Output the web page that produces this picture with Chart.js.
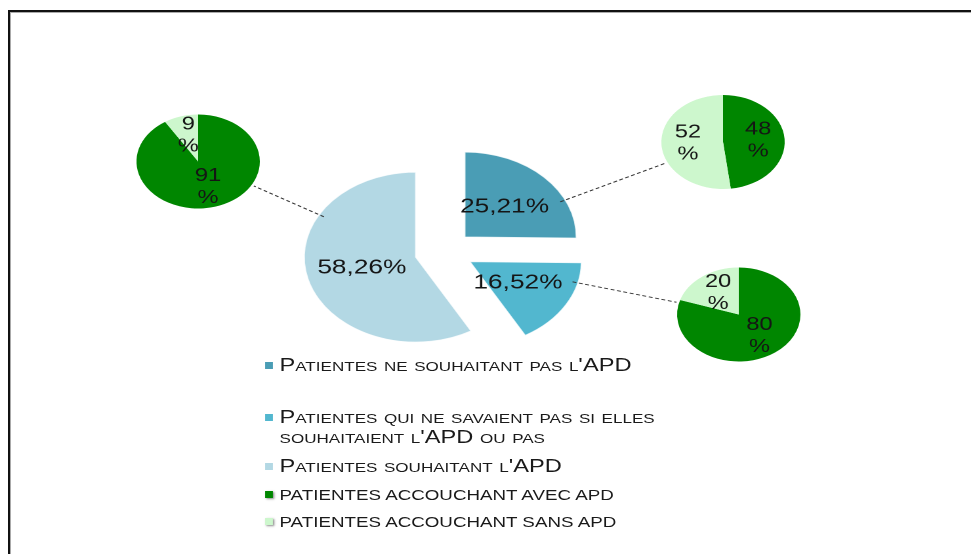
<!DOCTYPE html>
<html>
<head>
<meta charset="utf-8">
<script src="https://cdn.jsdelivr.net/npm/chart.js@4.4.1/dist/chart.umd.min.js"></script>
<style>
  html, body { margin: 0; padding: 0; background: #fff; overflow: hidden; }
  body { width: 971px; height: 554px; position: relative; font-family: 'Liberation Sans', Arial, sans-serif; }
  #frame { position: absolute; left: 8px; top: 10px; width: 1000px; height: 600px;
           border-top: 2px solid #111; border-left: 2px solid #111; box-shadow: inset 1px 1px 0 #aaa; }
  /* the original picture is stretched horizontally, so draw narrow and stretch */
  #stage { position: absolute; left: 0; top: 0; width: 740px; height: 554px;
           transform-origin: 0 0; transform: scaleX(1.3122); }
  #stage canvas { position: absolute; left: 0; top: 0; }
  .row { position: absolute; left: 202px; display: flex; align-items: flex-start; color: #1a1a1a; line-height: 20px; }
  .box { width: 6px; height: 7px; margin: 7px 5px 0 0; flex: none; }
  .sc { font-size: 18px; font-variant: small-caps; white-space: pre-line; }
  .caps { font-size: 14.3px; }
  .caps .box { box-shadow: 1px 1px 2px rgba(0,0,0,0.45); margin-top: 6px; }
</style>
</head>
<body>
<div id="frame"></div>
<div id="stage">
  <canvas id="main" width="740" height="554" style="width:740px;height:554px"></canvas>
  <canvas id="pieWish" width="740" height="554" style="width:740px;height:554px"></canvas>
  <canvas id="pieNoWish" width="740" height="554" style="width:740px;height:554px"></canvas>
  <canvas id="pieUnsure" width="740" height="554" style="width:740px;height:554px"></canvas>
  <div id="legend"></div>
</div>
<script>
// big pie
const bigLabels = [
  "Patientes ne souhaitant pas l'APD",
  "Patientes qui ne savaient pas si elles\nsouhaitaient l'APD ou pas",
  "Patientes souhaitant l'APD"
];
const bigValues = [25.21, 16.52, 58.26];

// small pies (avec / sans APD)
const smallLabels = ['PATIENTES ACCOUCHANT AVEC APD', 'PATIENTES ACCOUCHANT SANS APD'];
const noWishValues = [48, 52];
const unsureValues = [80, 20];
const wishValues = [91, 9];

const bigColors = ['#4a9db5', '#52b7cf', '#b3d8e4'];
const smallColors = ['#008600', '#cdf7cd'];

const W = 740, H = 554;
const FONT = "'Liberation Sans', Arial, sans-serif";

function padAround(cx, cy, r) {
  const half = r + 10;
  return { left: cx - half, right: W - cx - half, top: cy - half, bottom: H - cy - half };
}

// pulls each slice out from the centre without growing its radius
function explodePlugin(dist) {
  return {
    id: 'explode',
    afterDatasetsUpdate(chart) {
      chart.getDatasetMeta(0).data.forEach((arc, i) => {
        const mid = (arc.startAngle + arc.endAngle) / 2;
        arc.x += Math.cos(mid) * dist[i];
        arc.y += Math.sin(mid) * dist[i];
      });
    }
  };
}

// text inside each slice, at a fraction of the radius along the mid angle
function labelsPlugin(size, lineHeight, at, fmt) {
  return {
    id: 'sliceLabels',
    afterDatasetsDraw(chart) {
      const ctx = chart.ctx;
      const values = chart.data.datasets[0].data;
      ctx.save();
      ctx.font = size + 'px ' + FONT;
      ctx.fillStyle = '#151515';
      ctx.textAlign = 'center';
      ctx.textBaseline = 'middle';
      chart.getDatasetMeta(0).data.forEach((arc, i) => {
        const mid = (arc.startAngle + arc.endAngle) / 2;
        const px = arc.x + Math.cos(mid) * arc.outerRadius * at;
        const py = arc.y + Math.sin(mid) * arc.outerRadius * at;
        const lines = fmt(values[i]).split('\n');
        lines.forEach((t, k) => {
          ctx.fillText(t, px, py + (k - (lines.length - 1) / 2) * lineHeight);
        });
      });
      ctx.restore();
    }
  };
}

// dashed line from a slice of the big pie to this small pie
function connectorPlugin(sliceIndex) {
  return {
    id: 'connector',
    afterDatasetsDraw(chart) {
      const from = mainChart.getDatasetMeta(0).data[sliceIndex];
      const own = chart.getDatasetMeta(0).data[0];
      const dx = own.x - from.x, dy = own.y - from.y;
      const len = Math.hypot(dx, dy);
      const ux = dx / len, uy = dy / len;
      const ctx = chart.ctx;
      ctx.save();
      ctx.strokeStyle = '#333';
      ctx.lineWidth = 1;
      ctx.setLineDash([3, 2]);
      ctx.beginPath();
      ctx.moveTo(from.x + ux * from.outerRadius * 0.95, from.y + uy * from.outerRadius * 0.95);
      ctx.lineTo(own.x - ux * (own.outerRadius + 2), own.y - uy * (own.outerRadius + 2));
      ctx.stroke();
      ctx.restore();
    }
  };
}

const mainChart = new Chart(document.getElementById('main'), {
  type: 'pie',
  data: {
    labels: bigLabels,
    datasets: [{ data: bigValues, backgroundColor: bigColors, borderColor: 'rgba(255,255,255,0.8)', borderWidth: 1 }]
  },
  options: {
    responsive: false,
    animation: false,
    devicePixelRatio: 2,
    events: [],
    radius: 85,
    layout: { padding: padAround(340, 251, 85) },
    plugins: { legend: { display: false }, tooltip: { enabled: false } }
  },
  plugins: [
    explodePlugin([20, 21, 24]),
    labelsPlugin(20, 24, 0.5, v => v.toFixed(2).replace('.', ',') + '%')
  ]
});

function smallPie(id, values, cx, cy, sliceIndex) {
  return new Chart(document.getElementById(id), {
    type: 'pie',
    data: {
      labels: smallLabels,
      datasets: [{ data: values, backgroundColor: smallColors, borderWidth: 0 }]
    },
    options: {
      responsive: false,
      animation: false,
      devicePixelRatio: 2,
      events: [],
      radius: 47,
      layout: { padding: padAround(cx, cy, 47) },
      plugins: { legend: { display: false }, tooltip: { enabled: false } }
    },
    plugins: [
      connectorPlugin(sliceIndex),
      labelsPlugin(18, 22, 0.57, v => v + '\n%')
    ]
  });
}

smallPie('pieWish', wishValues, 151, 161.5, 2);
smallPie('pieNoWish', noWishValues, 551, 142, 0);
smallPie('pieUnsure', unsureValues, 563, 314.5, 1);

// legend
const legendRows = [
  { text: bigLabels[0], color: bigColors[0], cls: 'sc', y: 355 },
  { text: bigLabels[1], color: bigColors[1], cls: 'sc', y: 407 },
  { text: bigLabels[2], color: bigColors[2], cls: 'sc', y: 456 },
  { text: smallLabels[0], color: smallColors[0], cls: 'caps', y: 485 },
  { text: smallLabels[1], color: smallColors[1], cls: 'caps', y: 512 }
];
const legend = document.getElementById('legend');
legendRows.forEach(r => {
  const row = document.createElement('div');
  row.className = 'row ' + r.cls;
  row.style.top = r.y + 'px';
  const box = document.createElement('span');
  box.className = 'box';
  box.style.background = r.color;
  const label = document.createElement('span');
  label.textContent = r.text;
  row.appendChild(box);
  row.appendChild(label);
  legend.appendChild(row);
});
</script>
</body>
</html>
